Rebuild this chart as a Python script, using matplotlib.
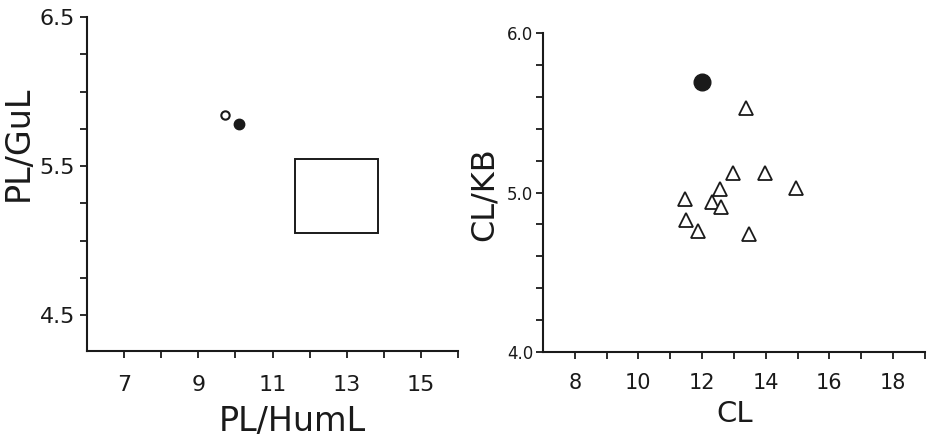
import numpy as np
import matplotlib
matplotlib.use("Agg")
import matplotlib.pyplot as plt
from matplotlib.patches import Rectangle
from matplotlib.ticker import MultipleLocator, FixedLocator

# Left panel: PL/HumL vs PL/GuL
left_open_x = [9.73]
left_open_y = [5.84]
left_fill_x = [10.1]
left_fill_y = [5.78]
# range box (x0, x1, y0, y1)
box_x = [11.6, 13.85]
box_y = [5.05, 5.55]

# Right panel: CL vs CL/KB
right_fill_x = [12.0]
right_fill_y = [5.69]
tri_x = [13.38, 12.96, 13.98, 14.96, 12.58, 11.46, 12.32, 12.60, 11.51, 11.88, 13.46]
tri_y = [5.53, 5.12, 5.12, 5.03, 5.02, 4.96, 4.94, 4.91, 4.83, 4.76, 4.74]

left_xticks = [7, 9, 11, 13, 15]
left_yticks = [4.5, 5.5, 6.5]
right_xticks = [8, 10, 12, 14, 16, 18]
right_yticks = [4.0, 5.0, 6.0]

ink = '#1a1a1a'
plt.rcParams['font.family'] = 'DejaVu Sans'

fig = plt.figure(figsize=(9.28, 4.38), dpi=100)
ax1 = fig.add_axes([0.0938, 0.1986, 0.3998, 0.7626])
ax2 = fig.add_axes([0.585, 0.1963, 0.4116, 0.7283])

for ax in (ax1, ax2):
    for s in ('top', 'right'):
        ax.spines[s].set_visible(False)
    for s in ('left', 'bottom'):
        ax.spines[s].set_linewidth(1.5)
        ax.spines[s].set_color(ink)
    ax.tick_params(which='both', direction='out', length=5, width=1.3, color=ink, labelcolor=ink)

# ---- left ----
ax1.plot(left_open_x, left_open_y, 'o', ms=6, mfc='white', mec=ink, mew=1.5)
ax1.plot(left_fill_x, left_fill_y, 'o', ms=7.5, mfc=ink, mec=ink)
ax1.add_patch(Rectangle((box_x[0], box_y[0]), box_x[1] - box_x[0], box_y[1] - box_y[0],
                        fill=False, edgecolor=ink, linewidth=1.4))
ax1.set_xlim(6, 16)
ax1.set_ylim(4.26, 6.5)
ax1.xaxis.set_major_locator(FixedLocator(left_xticks))
ax1.xaxis.set_minor_locator(FixedLocator([8, 10, 12, 14, 16]))
ax1.yaxis.set_major_locator(FixedLocator(left_yticks))
ax1.yaxis.set_minor_locator(FixedLocator([4.75, 5.0, 5.25, 5.75, 6.0, 6.25]))
ax1.set_xticklabels([str(v) for v in left_xticks], fontsize=16)
ax1.set_yticklabels([f'{v:.1f}' for v in left_yticks], fontsize=16)
ax1.tick_params(axis='x', which='major', pad=12)
ax1.set_xlabel('PL/HumL', fontsize=24, color=ink)
ax1.set_ylabel('PL/GuL', fontsize=24, color=ink)
ax1.xaxis.set_label_coords(0.553, -0.162)
ax1.yaxis.set_label_coords(-0.14, 0.623)

# ---- right ----
ax2.plot(right_fill_x, right_fill_y, 'o', ms=12, mfc=ink, mec=ink)
ax2.plot(tri_x, tri_y, '^', ms=10, mfc='white', mec=ink, mew=1.3)
ax2.set_xlim(7, 19)
ax2.set_ylim(4.0, 6.0)
ax2.xaxis.set_major_locator(FixedLocator(right_xticks))
ax2.xaxis.set_minor_locator(FixedLocator([9, 11, 13, 15, 17, 19]))
ax2.yaxis.set_major_locator(FixedLocator(right_yticks))
ax2.yaxis.set_minor_locator(MultipleLocator(0.2))
ax2.set_xticklabels([str(v) for v in right_xticks], fontsize=15)
ax2.set_yticklabels([f'{v:.1f}' for v in right_yticks], fontsize=12)
ax2.tick_params(axis='x', which='major', pad=10)
ax2.tick_params(axis='y', which='major', pad=2)
ax2.set_xlabel('CL', fontsize=21, color=ink)
ax2.set_ylabel('CL/KB', fontsize=23, color=ink)
ax2.xaxis.set_label_coords(0.503, -0.15)
ax2.yaxis.set_label_coords(-0.113, 0.495)

fig.savefig('out.png', dpi=100, facecolor='white')
